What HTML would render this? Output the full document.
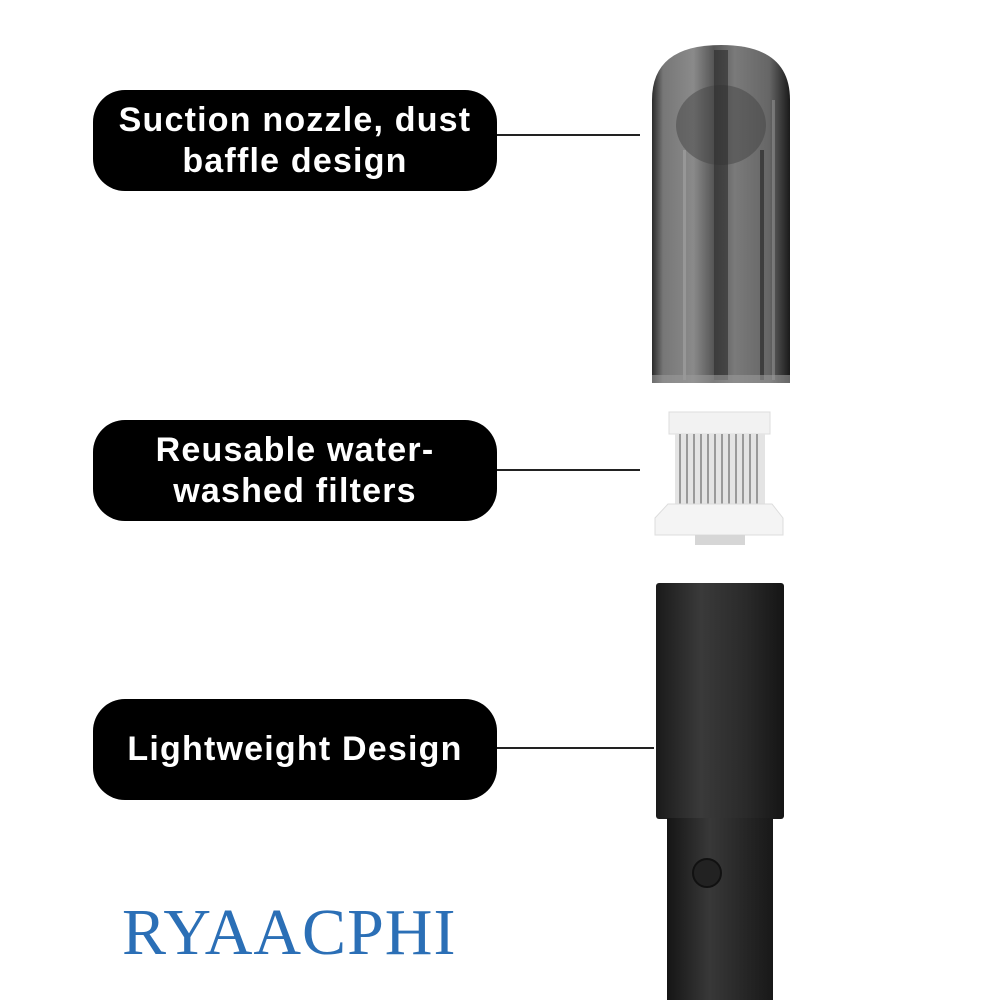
<!DOCTYPE html>
<html><head><meta charset="utf-8">
<style>
html,body{margin:0;padding:0;background:#fff;}
body{width:1000px;height:1000px;position:relative;overflow:hidden;font-family:"Liberation Sans",sans-serif;}
.box{position:absolute;left:93px;width:404px;height:101px;background:#000;border-radius:32px;color:#fff;font-weight:bold;font-size:34px;line-height:41px;text-align:center;display:flex;align-items:center;justify-content:center;letter-spacing:1.2px;}
.ln{position:absolute;height:1.5px;background:#222;}
.logo{position:absolute;left:122px;top:895px;font-family:"Liberation Serif",serif;font-size:66px;color:#2b6fb6;letter-spacing:1px;}
</style></head><body>
<svg width="1000" height="1000" style="position:absolute;left:0;top:0">
<defs>
<linearGradient id="noz" x1="0" x2="1">
<stop offset="0" stop-color="#2a2a2a"/><stop offset="0.08" stop-color="#777"/><stop offset="0.3" stop-color="#8a8a8a"/>
<stop offset="0.45" stop-color="#555"/><stop offset="0.6" stop-color="#7a7a7a"/><stop offset="0.85" stop-color="#666"/><stop offset="0.95" stop-color="#333"/><stop offset="1" stop-color="#1a1a1a"/>
</linearGradient>
<linearGradient id="hd" x1="0" x2="1">
<stop offset="0" stop-color="#1a1a1a"/><stop offset="0.35" stop-color="#3a3a3a"/><stop offset="0.7" stop-color="#2a2a2a"/><stop offset="1" stop-color="#151515"/>
</linearGradient>
<linearGradient id="tb" x1="0" x2="1">
<stop offset="0" stop-color="#151515"/><stop offset="0.4" stop-color="#383838"/><stop offset="1" stop-color="#181818"/>
</linearGradient>
</defs>
<path d="M652,383 L652,100 Q652,45 721,45 Q790,45 790,100 L790,383 Z" fill="url(#noz)"/>
<ellipse cx="721" cy="125" rx="45" ry="40" fill="#444" opacity="0.5"/>
<rect x="714" y="50" width="14" height="330" fill="#2c2c2c" opacity="0.6"/>
<rect x="683" y="150" width="3" height="230" fill="#aaa" opacity="0.5"/>
<rect x="760" y="150" width="4" height="230" fill="#222" opacity="0.6"/>
<rect x="772" y="100" width="3" height="280" fill="#aaa" opacity="0.4"/>
<rect x="652" y="375" width="138" height="8" fill="#999" opacity="0.6"/>
<rect x="669" y="412" width="101" height="22" fill="#f2f2f2" stroke="#ddd"/>
<rect x="675" y="434" width="90" height="70" fill="#e4e4e4"/>
<g fill="#9a9a9a">
<rect x="679" y="434" width="2" height="70"/><rect x="686" y="434" width="2" height="70"/><rect x="693" y="434" width="2" height="70"/><rect x="700" y="434" width="2" height="70"/><rect x="707" y="434" width="2" height="70"/><rect x="714" y="434" width="2" height="70"/><rect x="721" y="434" width="2" height="70"/><rect x="728" y="434" width="2" height="70"/><rect x="735" y="434" width="2" height="70"/><rect x="742" y="434" width="2" height="70"/><rect x="749" y="434" width="2" height="70"/><rect x="756" y="434" width="2" height="70"/>
</g>
<path d="M668,504 L772,504 L783,518 L783,535 L655,535 L655,518 Z" fill="#f4f4f4" stroke="#ddd"/>
<rect x="695" y="535" width="50" height="10" fill="#d6d6d6"/>
<rect x="656" y="583" width="128" height="236" rx="3" fill="url(#hd)"/>
<rect x="667" y="818" width="106" height="182" fill="url(#tb)"/>
<circle cx="707" cy="873" r="14" fill="#222" stroke="#111" stroke-width="2"/>
</svg>
<div class="box" style="top:90px">Suction nozzle, dust<br>baffle design</div>
<div class="box" style="top:420px">Reusable water-<br>washed filters</div>
<div class="box" style="top:699px">Lightweight Design</div>
<div class="ln" style="left:497px;top:134px;width:143px"></div>
<div class="ln" style="left:497px;top:469px;width:143px"></div>
<div class="ln" style="left:497px;top:747px;width:157px"></div>
<div class="logo">RYAACPHI</div>
</body></html>
